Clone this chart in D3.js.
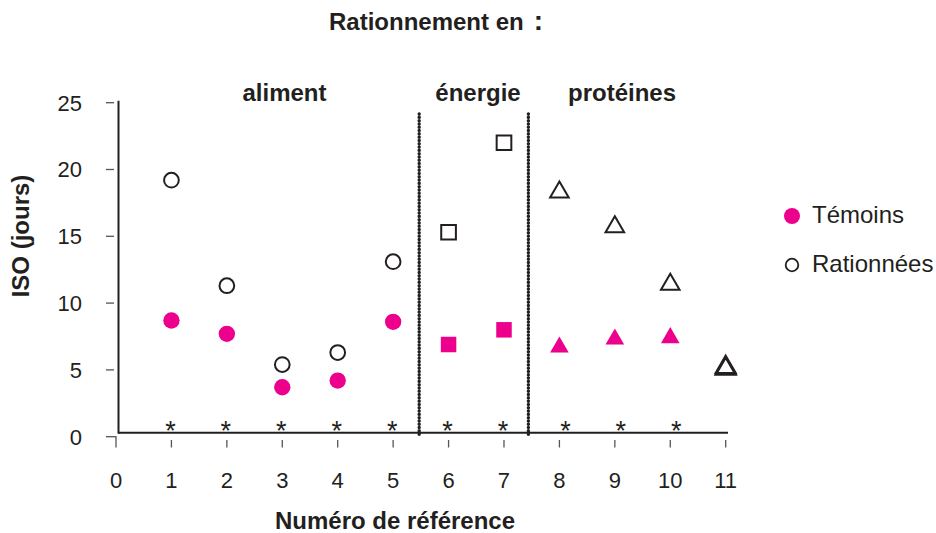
<!DOCTYPE html>
<html>
<head>
<meta charset="utf-8">
<script src="https://cdn.jsdelivr.net/npm/d3@7"></script>
<style>
    body { margin: 0; background: #fff; }
    text { font-family: "Liberation Sans", Arial, sans-serif; fill: #231f20; }
    .bold { font-weight: bold; }
</style>
</head>
<body>
<div id="chart"></div>
<script>
// data
const refs = [1, 2, 3, 4, 5, 6, 7, 8, 9, 10];
const groups = ["aliment", "aliment", "aliment", "aliment", "aliment",
    "énergie", "énergie", "protéines", "protéines", "protéines"];
const temoins = [8.7, 7.7, 3.7, 4.2, 8.6, 6.9, 8.0, 6.9, 7.5, 7.6];
const rationnees = [19.2, 11.3, 5.4, 6.3, 13.1, 15.3, 22.0, 18.5, 15.9, 11.6];
// ref 11: both series drawn as outlined triangles
const ref11 = [5.3, 5.4];
const sections = [
    {name: "aliment", cx: 284.5},
    {name: "énergie", cx: 478},
    {name: "protéines", cx: 622}
];
const separators = [5.47, 7.44];
const xTicks = d3.range(0, 12);
const yTicks = [0, 5, 10, 15, 20, 25];

const pink = "#ec008c";
const ink = "#231f20";

const width = 936, height = 533;
const svg = d3.select("#chart").append("svg")
    .attr("width", width)
    .attr("height", height);

// scales
const x = d3.scaleLinear().domain([0, 11]).range([116, 725.7]);
const y = d3.scaleLinear().domain([0, 25]).range([436.7, 102.7]);

const axisX = 118.5, axisY = 432.7;

// title
const title = svg.append("text")
    .attr("class", "bold")
    .attr("x", 329)
    .attr("y", 30)
    .style("font-size", "24px");
title.append("tspan").text("Rationnement en");
title.append("tspan").attr("dx", 10).style("font-size", "28px").text(":");

// axes lines
svg.append("line")
    .attr("x1", axisX).attr("x2", axisX)
    .attr("y1", y(25) - 2).attr("y2", axisY + 1)
    .attr("stroke", ink).attr("stroke-width", 2);
svg.append("line")
    .attr("x1", axisX).attr("x2", 728)
    .attr("y1", axisY).attr("y2", axisY)
    .attr("stroke", ink).attr("stroke-width", 2);

// y ticks and labels
const yg = svg.append("g");
yg.selectAll("line").data(yTicks).enter().append("line")
    .attr("x1", 106).attr("x2", d => d === 0 ? 116.5 : 114)
    .attr("y1", d => y(d)).attr("y2", d => y(d))
    .attr("stroke", "#555").attr("stroke-width", 1.3);
yg.selectAll("text").data(yTicks).enter().append("text")
    .attr("x", 82)
    .attr("y", d => y(d))
    .attr("dy", "0.36em")
    .attr("text-anchor", "end")
    .style("font-size", "22px")
    .text(d => d);

// x ticks and labels
const xg = svg.append("g");
xg.selectAll("line").data(xTicks).enter().append("line")
    .attr("x1", d => x(d)).attr("x2", d => x(d))
    .attr("y1", d => d === 0 ? y(0) : 440).attr("y2", 447.5)
    .attr("stroke", "#555").attr("stroke-width", 1.3);
xg.selectAll("text").data(xTicks).enter().append("text")
    .attr("x", d => x(d))
    .attr("y", 488)
    .attr("text-anchor", "middle")
    .style("font-size", "22px")
    .text(d => d);

// axis titles
svg.append("text")
    .attr("class", "bold")
    .attr("x", 395)
    .attr("y", 529)
    .attr("text-anchor", "middle")
    .style("font-size", "24px")
    .text("Numéro de référence");

svg.append("text")
    .attr("class", "bold")
    .attr("transform", "translate(29," + 236 + ") rotate(-90)")
    .attr("text-anchor", "middle")
    .style("font-size", "24px")
    .text("ISO (jours)");

// section separators (beaded lines)
svg.selectAll(".sep").data(separators).enter().append("line")
    .attr("class", "sep")
    .attr("x1", d => x(d)).attr("x2", d => x(d))
    .attr("y1", 114).attr("y2", y(0))
    .attr("stroke", ink)
    .attr("stroke-width", 3.4)
    .attr("stroke-linecap", "round")
    .attr("stroke-dasharray", "0.1 3.2");

// section labels
svg.selectAll(".section").data(sections).enter().append("text")
    .attr("class", "bold section")
    .attr("x", d => d.cx)
    .attr("y", 101)
    .attr("text-anchor", "middle")
    .style("font-size", "24px")
    .text(d => d.name);

// markers
const shapeOf = g => g === "aliment" ? d3.symbolCircle : g === "énergie" ? d3.symbolSquare : d3.symbolTriangle;
const sizeOf = (g, filled) => g === "aliment" ? (filled ? 210 : 170) : g === "énergie" ? (filled ? 240 : 215) : 150;
// d3 triangles are centred on the centroid; shift to the box centre
const dyOf = (g, s) => g === "protéines" ? Math.sqrt(s / (Math.sqrt(3) * 3)) / 2 : 0;

const pts = svg.append("g");
pts.selectAll(".rat").data(refs).enter().append("path")
    .attr("class", "rat")
    .attr("d", (d, i) => d3.symbol().type(shapeOf(groups[i])).size(sizeOf(groups[i], false))())
    .attr("transform", (d, i) => `translate(${x(d)},${y(rationnees[i]) + dyOf(groups[i], sizeOf(groups[i], false))})`)
    .attr("fill", "none")
    .attr("stroke", ink)
    .attr("stroke-width", 2);

pts.selectAll(".tem").data(refs).enter().append("path")
    .attr("class", "tem")
    .attr("d", (d, i) => d3.symbol().type(shapeOf(groups[i])).size(sizeOf(groups[i], true))())
    .attr("transform", (d, i) => `translate(${x(d)},${y(temoins[i]) + dyOf(groups[i], sizeOf(groups[i], true))})`)
    .attr("fill", pink);

pts.selectAll(".r11").data(ref11).enter().append("path")
    .attr("class", "r11")
    .attr("d", d3.symbol().type(d3.symbolTriangle).size(170)())
    .attr("transform", d => `translate(${x(11)},${y(d) + dyOf("protéines", 170)})`)
    .attr("fill", "none")
    .attr("stroke", ink)
    .attr("stroke-width", 2.4);

// significance stars
svg.selectAll(".star").data(refs).enter().append("text")
    .attr("class", "star")
    .attr("x", d => x(d) + (d >= 8 ? 6 : -1))
    .attr("y", 440)
    .attr("text-anchor", "middle")
    .style("font-size", "27px")
    .text("*");

// legend
const legend = svg.append("g");
legend.append("circle").attr("cx", 792).attr("cy", 216).attr("r", 8).attr("fill", pink);
legend.append("text").attr("x", 812).attr("y", 223).style("font-size", "24px").text("Témoins");
legend.append("circle").attr("cx", 792).attr("cy", 265).attr("r", 6.3)
    .attr("fill", "none").attr("stroke", ink).attr("stroke-width", 1.8);
legend.append("text").attr("x", 812).attr("y", 272).style("font-size", "24px").text("Rationnées");
</script>
</body>
</html>
